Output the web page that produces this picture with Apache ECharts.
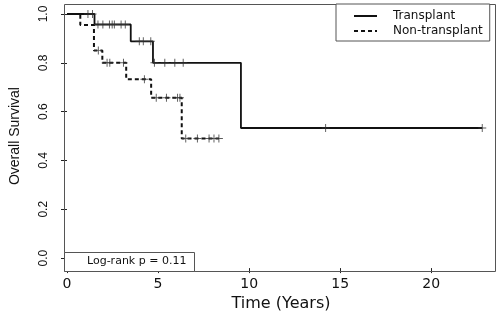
<!DOCTYPE html>
<html>
<head>
<meta charset="utf-8">
<script src="https://cdn.jsdelivr.net/npm/echarts@6/dist/echarts.min.js"></script>
<style>
  html, body { margin: 0; padding: 0; background: #fff; }
  #chart { width: 500px; height: 317px; }
</style>
</head>
<body>
<div id="chart"></div>
<script>
// Kaplan-Meier curves (time in years, survival)
var transplantTimes = [0, 1.51, 3.5, 4.72, 9.55, 22.8];
var transplantSurv  = [1.0, 0.957, 0.888, 0.80, 0.533, 0.533];
var transplantCensor = [1.15, 1.4, 1.7, 1.97, 2.33, 2.48, 2.6, 2.97, 3.2, 3.97, 4.19, 4.6, 4.8, 5.37, 5.92, 6.38, 14.2, 22.8];

var nonTimes = [0, 0.73, 1.48, 1.94, 3.25, 4.62, 6.3, 8.34];
var nonSurv  = [1.0, 0.955, 0.85, 0.80, 0.733, 0.657, 0.49, 0.49];
var nonCensor = [1.72, 2.2, 2.35, 3.1, 4.25, 4.9, 5.46, 6.07, 6.2, 6.52, 7.16, 7.8, 8.07, 8.34];

var seriesNames = ['Transplant', 'Non-transplant'];
var pText = 'Log-rank p = 0.11';

function pairs(t, s) {
  return t.map(function (v, i) { return [v, s[i]]; });
}
// survival at a censor time = value of the step curve at that time
function marks(t, s, c) {
  return c.map(function (x) {
    var v = s[0];
    for (var i = 0; i < t.length; i++) { if (t[i] <= x) v = s[i]; }
    return [x, v];
  });
}

var plus = 'path://M0,4.4H10V5.6H0Z M4.4,0H5.6V10H4.4Z';

var chart = echarts.init(document.getElementById('chart'));
var option = {
  animation: false,
  // plot region 0..1 sits 10px inside the R-style frame
  grid: { left: 64, right: 5, top: 14, bottom: 55 },
  xAxis: {
    type: 'value', min: 0, max: 23.5, interval: 5, offset: 10,
    name: 'Time (Years)', nameLocation: 'middle', nameGap: 23,
    nameTextStyle: { fontFamily: 'DejaVu Sans', fontSize: 16, color: '#111' },
    axisLine: { show: false, onZero: false },
    splitLine: { show: false },
    axisTick: { show: true, length: 5, lineStyle: { color: '#222', width: 1 } },
    axisLabel: {
      margin: 9, showMaxLabel: false,
      fontFamily: 'DejaVu Sans', fontSize: 14, color: '#111'
    }
  },
  yAxis: {
    type: 'value', min: 0, max: 1, interval: 0.2,
    name: 'Overall Survival', nameLocation: 'middle', nameGap: 45,
    nameTextStyle: { fontFamily: 'Liberation Sans', fontSize: 14, color: '#111' },
    axisLine: { show: false, onZero: false },
    splitLine: { show: false },
    axisTick: { show: true, length: 6, lineStyle: { color: '#222', width: 1 } },
    axisLabel: {
      rotate: 90, margin: 17,
      fontFamily: 'Liberation Sans', fontSize: 12, color: '#111',
      formatter: function (v) { return v.toFixed(1); }
    }
  },
  legend: {
    data: seriesNames,
    orient: 'vertical', left: 336, top: 4,
    padding: [5, 7, 3, 17],
    itemWidth: 23, itemHeight: 14, itemGap: 1,
    borderColor: '#555', borderWidth: 1, borderRadius: 0,
    backgroundColor: '#fff',
    itemStyle: { opacity: 0 },
    textStyle: { fontFamily: 'DejaVu Sans', fontSize: 12, color: '#111', padding: [0, 0, 0, 11], lineHeight: 14 }
  },
  series: [
    {
      name: seriesNames[0], type: 'line', step: 'end', clip: false,
      data: pairs(transplantTimes, transplantSurv),
      symbol: 'none', lineStyle: { color: '#111', width: 1.8 },
      itemStyle: { color: '#111' }
    },
    {
      name: seriesNames[1], type: 'line', step: 'end', clip: false,
      data: pairs(nonTimes, nonSurv),
      symbol: 'none', lineStyle: { color: '#111', width: 2, type: [4, 3] },
      itemStyle: { color: '#111' }
    },
    {
      type: 'scatter', clip: false, data: marks(transplantTimes, transplantSurv, transplantCensor),
      symbol: plus, symbolSize: 8, itemStyle: { color: '#333' }, z: 3
    },
    {
      type: 'scatter', clip: false, data: marks(nonTimes, nonSurv, nonCensor),
      symbol: plus, symbolSize: 8, itemStyle: { color: '#333' }, z: 3
    }
  ],
  graphic: [
    {
      // plot frame
      type: 'rect', z: 1, silent: true,
      shape: { x: 64.5, y: 4.5, width: 431, height: 267 },
      style: { fill: 'none', stroke: '#555', lineWidth: 1 }
    },
    {
      type: 'rect', z: 10,
      shape: { x: 64.5, y: 252.5, width: 130, height: 19 },
      style: { fill: '#fff', stroke: '#555', lineWidth: 1 }
    },
    {
      type: 'text', left: 87, top: 256, z: 11,
      style: { text: pText, fontFamily: 'DejaVu Sans', fontSize: 11, fill: '#111' }
    }
  ]
};
chart.setOption(option);
</script>
</body>
</html>
